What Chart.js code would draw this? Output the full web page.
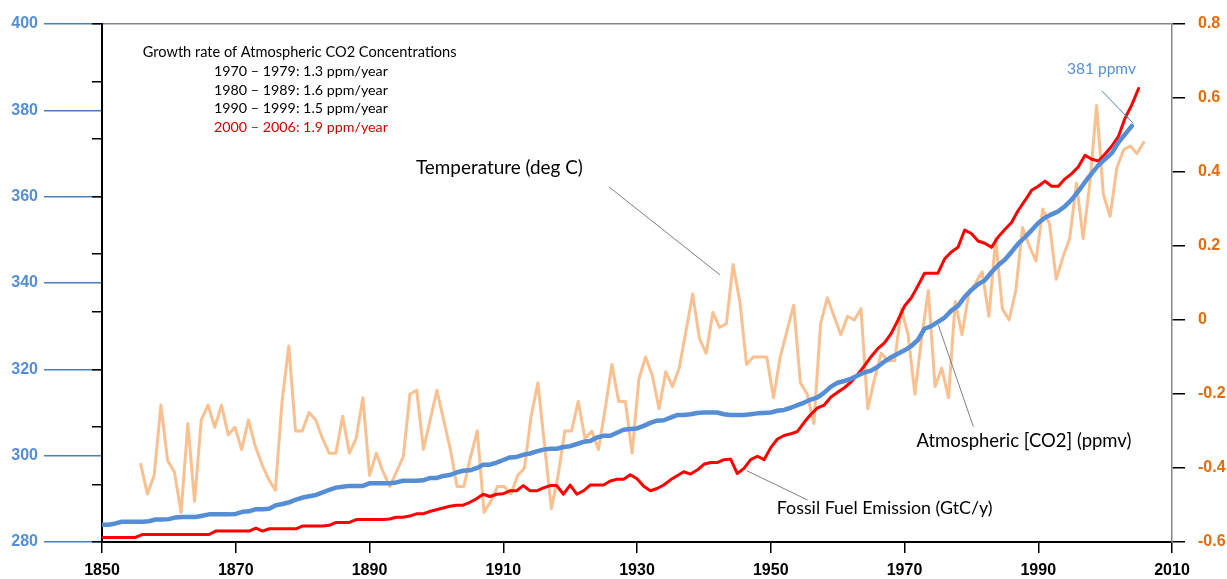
<!DOCTYPE html>
<html>
<head>
<meta charset="utf-8">
<title>Atmospheric CO2, fossil fuel emission and temperature, 1850-2006</title>
<script src="https://cdn.jsdelivr.net/npm/chart.js@4.4.1/dist/chart.umd.min.js"></script>
<style>
    html, body { margin: 0; padding: 0; background: #ffffff; }
    #wrap { width: 1227px; height: 579px; }
</style>
</head>
<body>
<div id="wrap"><canvas id="co2Chart" width="1227" height="579"></canvas></div>
<script>
// ----------------------------------------------------
// Data
// ----------------------------------------------------
const xTicks = [1850, 1870, 1890, 1910, 1930, 1950, 1970, 1990, 2010];
const co2Ticks = [280, 300, 320, 340, 360, 380, 400];
const fuelTicks = [0, 1, 2, 3, 4, 5, 6, 7, 8, 9];
const tempTicks = [-0.6, -0.4, -0.2, 0, 0.2, 0.4, 0.6, 0.8];

// Atmospheric [CO2] (ppmv), yearly from 1850 to 2004
const co2FirstYear = 1850;
const co2Values = [
    284.0, 284.0, 284.3, 284.7, 284.7, 284.7, 284.7, 284.8, 285.2, 285.2,
    285.3, 285.7, 285.8, 285.8, 285.8, 286.1, 286.4, 286.4, 286.4, 286.4,
    286.5, 287.0, 287.1, 287.6, 287.6, 287.7, 288.5, 288.8, 289.2, 289.8,
    290.3, 290.6, 290.9, 291.5, 292.1, 292.6, 292.8, 293.0, 293.0, 293.0,
    293.6, 293.6, 293.6, 293.6, 293.8, 294.2, 294.2, 294.2, 294.3, 294.8,
    294.8, 295.3, 295.5, 296.1, 296.5, 296.6, 297.1, 297.9, 297.9, 298.4,
    299.0, 299.6, 299.7, 300.2, 300.5, 301.0, 301.4, 301.6, 301.6, 302.0,
    302.2, 302.7, 303.2, 303.4, 304.2, 304.6, 304.6, 305.3, 306.0, 306.2,
    306.3, 306.9, 307.6, 308.1, 308.2, 308.8, 309.4, 309.4, 309.6, 309.9,
    310.0, 310.0, 310.0, 309.6, 309.4, 309.4, 309.4, 309.6, 309.8, 309.9,
    310.0, 310.4, 310.6, 311.1, 311.7, 312.3, 313.0, 313.5, 314.6, 316.0,
    316.9, 317.3, 317.8, 318.6, 319.3, 319.7, 320.6, 321.8, 322.8, 323.6,
    324.4, 325.4, 326.8, 329.4, 330.0, 331.0, 332.0, 333.6, 334.7, 336.8,
    338.4, 339.7, 340.6, 342.5, 344.1, 345.4, 347.2, 349.1, 350.6, 352.2,
    353.9, 355.1, 355.9, 356.6, 357.8, 359.3, 361.3, 363.4, 365.4, 367.3,
    368.7, 370.1, 372.6, 374.5, 376.4
];

// Fossil Fuel Emission (GtC/y), yearly from 1850 to 2005
const fuelFirstYear = 1850;
const fuelValues = [
    0.08, 0.08, 0.08, 0.08, 0.08, 0.08, 0.13, 0.13, 0.13, 0.13,
    0.13, 0.13, 0.13, 0.13, 0.13, 0.13, 0.13, 0.19, 0.19, 0.19,
    0.19, 0.19, 0.19, 0.24, 0.19, 0.23, 0.23, 0.23, 0.23, 0.23,
    0.28, 0.28, 0.28, 0.28, 0.29, 0.34, 0.34, 0.34, 0.39, 0.39,
    0.39, 0.39, 0.39, 0.40, 0.43, 0.43, 0.45, 0.49, 0.49, 0.53,
    0.56, 0.59, 0.62, 0.64, 0.64, 0.69, 0.75, 0.83, 0.79, 0.83,
    0.84, 0.89, 0.89, 0.98, 0.89, 0.89, 0.94, 0.98, 0.98, 0.83,
    0.99, 0.83, 0.89, 0.99, 0.99, 0.99, 1.06, 1.09, 1.09, 1.17,
    1.10, 0.97, 0.89, 0.93, 0.99, 1.08, 1.15, 1.22, 1.18, 1.25,
    1.35, 1.38, 1.38, 1.43, 1.44, 1.19, 1.28, 1.43, 1.49, 1.43,
    1.64, 1.79, 1.85, 1.88, 1.92, 2.08, 2.22, 2.33, 2.38, 2.52,
    2.60, 2.68, 2.78, 2.91, 3.06, 3.22, 3.36, 3.46, 3.62, 3.85,
    4.10, 4.24, 4.45, 4.67, 4.67, 4.67, 4.92, 5.04, 5.12, 5.42,
    5.36, 5.23, 5.19, 5.12, 5.30, 5.43, 5.55, 5.76, 5.93, 6.11,
    6.18, 6.27, 6.18, 6.18, 6.31, 6.40, 6.52, 6.72, 6.65, 6.62,
    6.74, 6.88, 7.05, 7.37, 7.60, 7.88
];

// Temperature anomaly (deg C), yearly from 1856 to 2005
const tempFirstYear = 1856;
const tempValues = [
    -0.39, -0.47, -0.42, -0.23,
    -0.38, -0.41, -0.52, -0.28, -0.49, -0.27, -0.23, -0.29, -0.23, -0.31,
    -0.29, -0.35, -0.27, -0.34, -0.39, -0.43, -0.46, -0.22, -0.07, -0.30,
    -0.30, -0.25, -0.27, -0.32, -0.36, -0.36, -0.26, -0.36, -0.32, -0.21,
    -0.42, -0.36, -0.41, -0.45, -0.41, -0.37, -0.20, -0.19, -0.35, -0.27,
    -0.19, -0.27, -0.35, -0.45, -0.45, -0.37, -0.30, -0.52, -0.49, -0.45,
    -0.45, -0.47, -0.42, -0.40, -0.26, -0.17, -0.34, -0.51, -0.42, -0.30,
    -0.30, -0.22, -0.32, -0.30, -0.35, -0.24, -0.12, -0.22, -0.22, -0.36,
    -0.16, -0.10, -0.15, -0.24, -0.14, -0.18, -0.13, -0.03, 0.07, -0.05,
    -0.09, 0.02, -0.02, -0.01, 0.15, 0.05, -0.12, -0.10, -0.10, -0.10,
    -0.21, -0.10, -0.03, 0.04, -0.17, -0.20, -0.28, -0.01, 0.06, 0.01,
    -0.04, 0.01, 0.00, 0.03, -0.24, -0.16, -0.09, -0.11, -0.11, 0.03,
    -0.04, -0.20, -0.05, 0.08, -0.18, -0.13, -0.21, 0.05, -0.04, 0.07,
    0.10, 0.13, 0.01, 0.22, 0.03, 0.00, 0.08, 0.25, 0.20, 0.16,
    0.30, 0.26, 0.11, 0.17, 0.22, 0.37, 0.22, 0.37, 0.58, 0.34,
    0.28, 0.41, 0.46, 0.47, 0.45, 0.48
];

// In the source the temperature trace is stretched a little against the
// year axis, so it gets its own hidden year scale.
const tempAxisMin = 1850.25;
const tempAxisMax = 2009.2;

// Text callouts, placed in data units (year + value on the named y axis)
const notes = [
    { text: 'Growth rate of Atmospheric CO2 Concentrations', year: 1856.1, value: 392.4, axis: 'yC', width: 314, color: '#000000' },
    { text: '1970 \u2013 1979: 1.3 ppm/year', year: 1866.75, value: 388.0, axis: 'yC', width: 174, color: '#000000' },
    { text: '1980 \u2013 1989: 1.6 ppm/year', year: 1866.75, value: 383.6, axis: 'yC', width: 174, color: '#000000' },
    { text: '1990 \u2013 1999: 1.5 ppm/year', year: 1866.75, value: 379.3, axis: 'yC', width: 174, color: '#000000' },
    { text: '2000 \u2013 2006: 1.9 ppm/year', year: 1866.75, value: 374.9, axis: 'yC', width: 174, color: '#D00000' },
    { text: 'Temperature (deg C)', year: 1896.95, value: 0.395, axis: 'yT', width: 167, color: '#000000' },
    { text: '381 ppmv', year: 1994.3, value: 388.4, axis: 'yC', width: 69, color: '#558ED5' },
    { text: 'Atmospheric [CO2] (ppmv)', year: 1971.8, value: 301.9, axis: 'yC', width: 215, color: '#000000' },
    { text: 'Fossil Fuel Emission (GtC/y)', year: 1950.9, value: 0.48, axis: 'yF', width: 216, color: '#000000' }
];

const leaders = [
    { from: [1925.8, 0.36], to: [1942.4, 0.122], axis: 'yT', color: '#7F7F7F' },
    { from: [1999.5, 384.5], to: [2004.2, 377.0], axis: 'yC', color: '#4A7EBB' },
    { from: [1975.05, 330.3], to: [1980.3, 306.7], axis: 'yC', color: '#7F7F7F' },
    { from: [1946.4, 1.24], to: [1955.5, 0.73], axis: 'yF', color: '#7F7F7F' }
];

document.addEventListener('DOMContentLoaded', function() {
    Chart.defaults.font.family = '"Liberation Sans", Arial, sans-serif';
    Chart.defaults.font.size = 16;
    Chart.defaults.font.weight = 'bold';
    Chart.defaults.color = '#000';

    const toPoints = (firstYear, values) => values.map((v, i) => ({ x: firstYear + i, y: v }));
    const fixedTicks = (list) => function(scale) {
        scale.ticks = list.map(v => ({ value: v }));
    };

    // ----------------------------------------------------
    // Callouts plugin (labels + leader lines)
    // ----------------------------------------------------
    const callouts = {
        id: 'callouts',
        afterDatasetsDraw(chart) {
            const ctx = chart.ctx;
            const xs = chart.scales.x;
            ctx.save();
            leaders.forEach(l => {
                const ys = chart.scales[l.axis];
                ctx.beginPath();
                ctx.moveTo(xs.getPixelForValue(l.from[0]), ys.getPixelForValue(l.from[1]));
                ctx.lineTo(xs.getPixelForValue(l.to[0]), ys.getPixelForValue(l.to[1]));
                ctx.strokeStyle = l.color;
                ctx.lineWidth = 1;
                ctx.stroke();
            });
            ctx.textAlign = 'left';
            ctx.textBaseline = 'alphabetic';
            notes.forEach(n => {
                ctx.font = '100px Lato';
                const size = 100 * n.width / ctx.measureText(n.text).width;
                ctx.font = size.toFixed(2) + 'px Lato';
                ctx.fillStyle = n.color;
                ctx.fillText(n.text, xs.getPixelForValue(n.year), chart.scales[n.axis].getPixelForValue(n.value));
            });
            ctx.restore();
        }
    };

    // ----------------------------------------------------
    // Chart
    // ----------------------------------------------------
    const config = {
        type: 'line',
        data: {
            datasets: [
                {
                    label: 'Atmospheric [CO2] (ppmv)',
                    data: toPoints(co2FirstYear, co2Values),
                    xAxisID: 'x',
                    yAxisID: 'yC',
                    borderColor: '#558ED5',
                    borderWidth: 4.5
                },
                {
                    label: 'Fossil Fuel Emission (GtC/y)',
                    data: toPoints(fuelFirstYear, fuelValues),
                    xAxisID: 'x',
                    yAxisID: 'yF',
                    borderColor: '#FF0000',
                    borderWidth: 3
                },
                {
                    label: 'Temperature (deg C)',
                    data: toPoints(tempFirstYear, tempValues),
                    xAxisID: 'xT',
                    yAxisID: 'yT',
                    borderColor: '#FAC090',
                    borderWidth: 3
                }
            ]
        },
        options: {
            responsive: false,
            animation: false,
            layout: { padding: { top: 24, left: 0, right: 0, bottom: 0 } },
            elements: {
                line: { tension: 0, fill: false, borderJoinStyle: 'round', borderCapStyle: 'round' },
                point: { radius: 0, hoverRadius: 0 }
            },
            plugins: {
                legend: { display: false },
                tooltip: { enabled: false }
            },
            scales: {
                x: {
                    type: 'linear',
                    position: 'bottom',
                    min: 1850,
                    max: 2010,
                    afterBuildTicks: fixedTicks(xTicks),
                    afterFit: function(scale) { scale.height = 37; },
                    ticks: {
                        autoSkip: false,
                        maxRotation: 0,
                        padding: 8,
                        color: '#000',
                        callback: v => String(v)
                    },
                    grid: { drawOnChartArea: false, tickLength: 11, color: '#000', lineWidth: 1.5 },
                    border: { color: '#000', width: 2 }
                },
                xT: {
                    type: 'linear',
                    position: 'bottom',
                    display: false,
                    min: tempAxisMin,
                    max: tempAxisMax
                },
                xTop: {
                    type: 'linear',
                    position: 'top',
                    min: 1850,
                    max: 2010,
                    afterFit: function(scale) { scale.height = 0; },
                    ticks: { display: false },
                    grid: { display: false },
                    border: { color: '#868686', width: 1.5 }
                },
                yC: {
                    type: 'linear',
                    position: 'left',
                    weight: 2,
                    min: 280,
                    max: 400,
                    afterBuildTicks: fixedTicks(co2Ticks),
                    afterFit: function(scale) { scale.width = 102; },
                    ticks: { autoSkip: false, padding: 6, color: '#558ED5', callback: v => String(v) },
                    grid: { drawOnChartArea: false, tickLength: 58, color: '#4A7EBB', lineWidth: 1.5 },
                    border: { display: false }
                },
                yF: {
                    type: 'linear',
                    position: 'left',
                    weight: 1,
                    min: 0,
                    max: 9,
                    afterBuildTicks: fixedTicks(fuelTicks),
                    afterFit: function(scale) { scale.width = 0; },
                    ticks: { autoSkip: false, padding: 4, color: '#FF0000', callback: v => String(v) },
                    grid: { drawOnChartArea: false, tickLength: 10, color: '#000', lineWidth: 1.5 },
                    border: { color: '#000', width: 2 }
                },
                yT: {
                    type: 'linear',
                    position: 'right',
                    min: -0.6,
                    max: 0.8,
                    afterBuildTicks: fixedTicks(tempTicks),
                    afterFit: function(scale) { scale.width = 55; },
                    ticks: {
                        autoSkip: false,
                        padding: 13,
                        color: '#E46C0A',
                        callback: v => (Math.abs(v) < 1e-9 ? '0' : v.toFixed(1))
                    },
                    grid: { drawOnChartArea: false, tickLength: 13, color: '#000', lineWidth: 1.5 },
                    border: { color: '#868686', width: 1.5 }
                }
            }
        },
        plugins: [callouts]
    };

    new Chart(document.getElementById('co2Chart'), config);
});
</script>
</body>
</html>
